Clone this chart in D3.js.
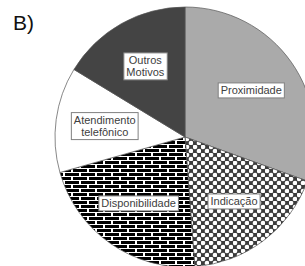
<!DOCTYPE html>
<html>
<head>
<meta charset="utf-8">
<script src="https://cdn.jsdelivr.net/npm/d3@7"></script>
<style>
  body { margin: 0; background: #fff; }
  svg { display: block; }
</style>
</head>
<body>
<script>
var width = 305, height = 266;

// data (percent)
var categories = ["Proximidade", "Indicação", "Disponibilidade", "Atendimento telefônico", "Outros Motivos"];
var values = [30.5, 18.3, 21.8, 13.1, 16.3];
var labelLines = [["Proximidade"], ["Indicação"], ["Disponibilidade"], ["Atendimento", "telefônico"], ["Outros", "Motivos"]];

var cx = 185, cy = 137, r = 130;

var svg = d3.select("body").append("svg").attr("width", width).attr("height", height)
var defs = svg.append("defs")

// checkered dots
var dots = defs.append("pattern").attr("id", "dots").attr("patternUnits", "userSpaceOnUse")
    .attr("width", 8).attr("height", 8)
dots.append("rect").attr("width", 8).attr("height", 8).attr("fill", "#3c3c3c")
dots.append("circle").attr("cx", 2).attr("cy", 2).attr("r", 2.3).attr("fill", "#fff")
dots.append("circle").attr("cx", 6).attr("cy", 6).attr("r", 2.3).attr("fill", "#fff")

// bricks
var brick = defs.append("pattern").attr("id", "brick").attr("patternUnits", "userSpaceOnUse")
    .attr("width", 16).attr("height", 8)
brick.append("rect").attr("width", 16).attr("height", 8).attr("fill", "#fff")
brick.append("rect").attr("x", 0).attr("y", 0).attr("width", 14).attr("height", 3).attr("fill", "#000")
brick.append("rect").attr("x", 0).attr("y", 4).attr("width", 6).attr("height", 3).attr("fill", "#000")
brick.append("rect").attr("x", 8).attr("y", 4).attr("width", 8).attr("height", 3).attr("fill", "#000")

var fills = ["#aaaaaa", "url(#dots)", "url(#brick)", "#ffffff", "#444444"]

var pie = d3.pie().sort(null).value(function(d){ return d })
var arcs = pie(values)
var arc = d3.arc().innerRadius(0).outerRadius(r)
var labelArc = d3.arc().innerRadius(81).outerRadius(81)

var g = svg.append("g").attr("transform", "translate(" + cx + "," + cy + ")")

g.selectAll("path.slice").data(arcs).enter().append("path")
    .attr("class", "slice")
    .attr("d", arc)
    .attr("fill", function(d, i){ return fills[i] })
    .attr("stroke", "#555").attr("stroke-width", 0.7)

var lh = 12
var labels = g.selectAll("g.lab").data(arcs).enter().append("g")
    .attr("class", "lab")
    .attr("transform", function(d){ var c = labelArc.centroid(d); return "translate(" + c[0] + "," + c[1] + ")" })

labels.each(function(d, i){
    var el = d3.select(this)
    var lines = labelLines[i]
    var box = el.append("rect")
    var t = el.append("text")
        .attr("text-anchor", "middle")
        .attr("font-family", "Liberation Sans, Arial, sans-serif")
        .attr("font-size", "11px")
        .attr("fill", "#404040")
    lines.forEach(function(s, k){
        t.append("tspan").attr("x", 0)
            .attr("y", (k - (lines.length - 1) / 2) * lh + 4)
            .text(s)
    })
    var bb = t.node().getBBox()
    box.attr("x", bb.x - 2.5).attr("y", -lines.length * lh / 2 - 1.5)
        .attr("width", bb.width + 5).attr("height", lines.length * lh + 3)
        .attr("fill", "#fff").attr("stroke", "#808080").attr("stroke-width", 1)
})

svg.append("text").attr("x", 13).attr("y", 30)
    .attr("font-family", "Liberation Sans, Arial, sans-serif")
    .attr("font-size", "21px").attr("fill", "#111")
    .text("B)")
</script>
</body>
</html>
